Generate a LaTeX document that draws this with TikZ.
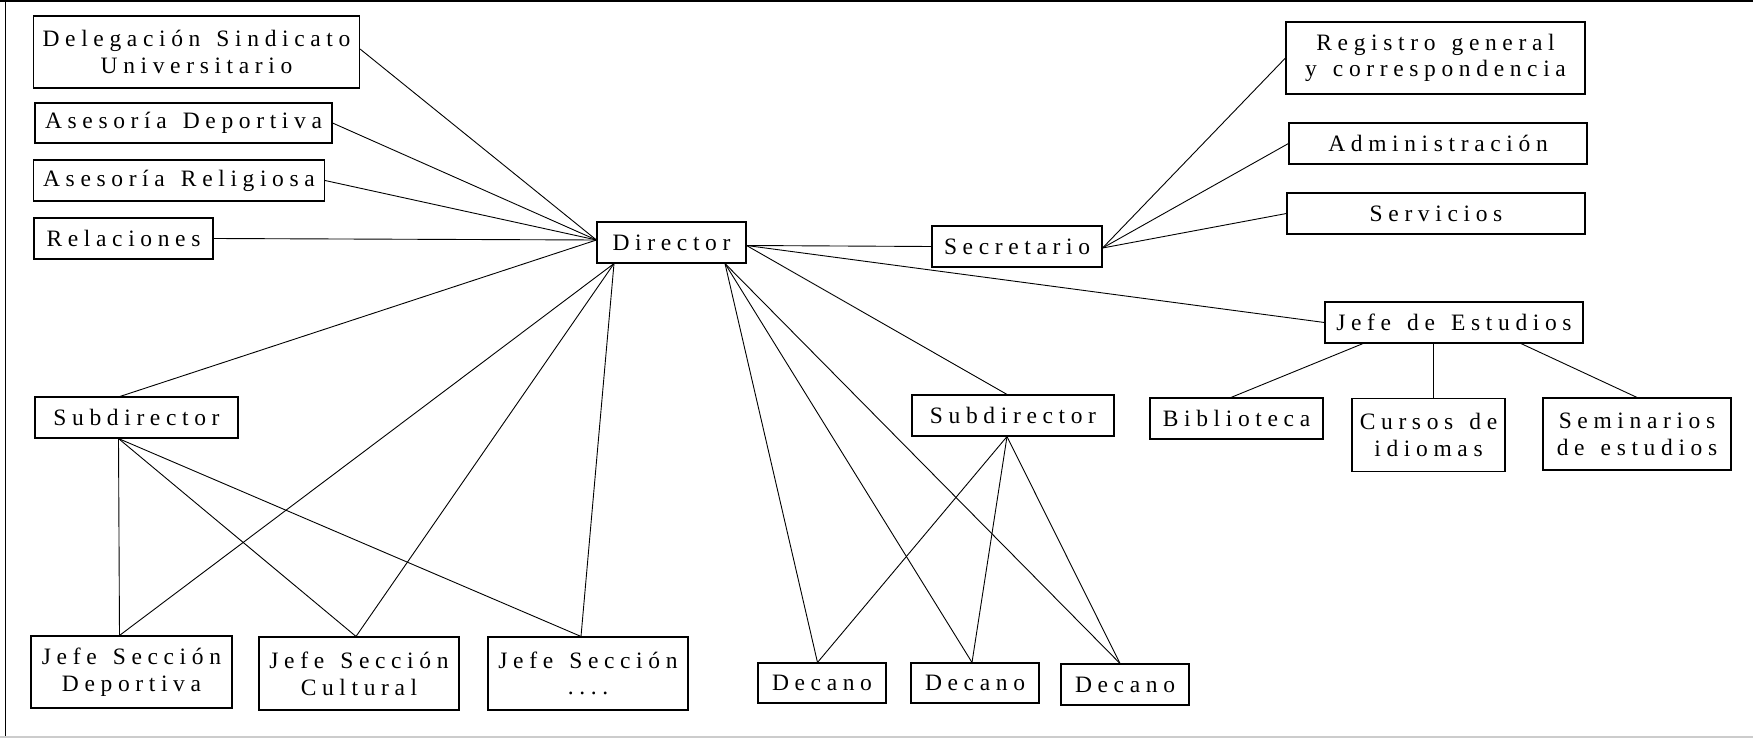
\documentclass[tikz,border=0pt]{standalone}
\usepackage{fontspec}
\newfontfamily\boxfont[LetterSpace=24,WordSpace=1.4]{Liberation Serif}
\begin{document}
\begin{tikzpicture}[x=1pt,y=-1pt,
  box/.style={draw, line width=1.1pt, inner sep=0pt, align=center,
    font={\boxfont\fontsize{23.5}{26.7}\selectfont}},
  link/.style={line width=0.9pt}]
\useasboundingbox (0,0) rectangle (1753,738);
% frame
\draw[line width=1.6pt] (0,0.8) -- (1753,0.8);
\draw[line width=1pt] (5,0) -- (5,737);
\draw[line width=1.5pt, black!20] (0,737) -- (1753,737);
% nodes
\node[box, minimum width=326pt, minimum height=72pt] (deleg) at (196.5,52) {Delegación Sindicato\\Universitario};
\node[box, minimum width=297pt, minimum height=40pt] (asdep) at (183.5,123) {Asesoría Deportiva};
\node[box, minimum width=291pt, minimum height=41pt] (asrel) at (179,180.5) {Asesoría Religiosa};
\node[box, minimum width=179pt, minimum height=41pt] (rel) at (123.5,238.5) {Relaciones};
\node[box, minimum width=149pt, minimum height=41pt] (dir) at (671.5,242.5) {Director};
\node[box, minimum width=170pt, minimum height=41pt] (sec) at (1017,246.5) {Secretario};
\node[box, minimum width=299pt, minimum height=72pt] (reg) at (1435.5,58) {Registro general\\y correspondencia};
\node[box, minimum width=298pt, minimum height=41pt] (adm) at (1438,143.5) {Administración};
\node[box, minimum width=298pt, minimum height=41pt] (serv) at (1436,213.5) {Servicios};
\node[box, minimum width=258pt, minimum height=41pt] (jefe) at (1454,322.5) {Jefe de Estudios};
\node[box, minimum width=173pt, minimum height=41pt] (bib) at (1236.5,418.5) {Biblioteca};
\node[box, minimum width=153pt, minimum height=73pt] (cur) at (1428.5,435) {Cursos de\\idiomas};
\node[box, minimum width=188pt, minimum height=72pt] (sem) at (1637,434) {Seminarios\\de estudios};
\node[box, minimum width=203pt, minimum height=41pt] (subA) at (136.5,417.5) {Subdirector};
\node[box, minimum width=202pt, minimum height=41pt] (subB) at (1013,415.5) {Subdirector};
\node[box, minimum width=201pt, minimum height=72pt] (jsA) at (131.5,672) {Jefe Sección\\Deportiva};
\node[box, minimum width=200pt, minimum height=73pt] (jsB) at (359,673.5) {Jefe Sección\\Cultural};
\node[box, minimum width=200pt, minimum height=73pt] (jsC) at (588,673.5) {Jefe Sección\\....};
\node[box, minimum width=128pt, minimum height=40pt] (decA) at (822,683) {Decano};
\node[box, minimum width=128pt, minimum height=40pt] (decB) at (975,683) {Decano};
\node[box, minimum width=128pt, minimum height=41pt] (decC) at (1125,684.5) {Decano};
% named attachment points
\coordinate (dirW) at ([yshift=2.5pt]dir.west);
\coordinate (dirBL) at ([xshift=-57.5pt]dir.south);
\coordinate (dirBR) at ([xshift=53.5pt]dir.south);
\coordinate (dirE) at ([yshift=-3pt]dir.east);
\coordinate (subAN) at ([xshift=-16.5pt]subA.north);
\coordinate (subAS) at ([xshift=-18pt]subA.south);
\coordinate (jsAN) at ([xshift=-12pt]jsA.north);
\coordinate (jsBN) at ([xshift=-3pt]jsB.north);
\coordinate (jsCN) at ([xshift=-7pt]jsC.north);
\coordinate (subBN) at ([xshift=-6pt]subB.north);
\coordinate (subBS) at ([xshift=-6pt]subB.south);
\coordinate (decAN) at ([xshift=-4.5pt]decA.north);
\coordinate (decBN) at ([xshift=-3pt]decB.north);
\coordinate (decCN) at ([xshift=-5pt]decC.north);
\coordinate (secE) at ([yshift=-1.5pt]sec.east);
\coordinate (jefeB1) at ([xshift=-91pt]jefe.south);
\coordinate (jefeB2) at ([xshift=-21pt]jefe.south);
\coordinate (jefeB3) at ([xshift=67pt]jefe.south);
\coordinate (bibN) at ([xshift=-5.5pt]bib.north);
\coordinate (curN) at ([xshift=4.5pt]cur.north);
% connectors
\draw[link] ([yshift=3pt]deleg.east) -- (dirW);
\draw[link] (asdep.east) -- (dirW);
\draw[link] (asrel.east) -- (dirW);
\draw[link] (rel.east) -- (dirW);
\draw[link] (dirW) -- (subAN);
\draw[link] (dirBL) -- (jsAN);
\draw[link] (dirBL) -- (jsBN);
\draw[link] (dirBL) -- (jsCN);
\draw[link] (subAS) -- (jsAN);
\draw[link] (subAS) -- (jsBN);
\draw[link] (subAS) -- (jsCN);
\draw[link] (dirBR) -- (decAN);
\draw[link] (dirBR) -- (decBN);
\draw[link] (dirBR) -- (decCN);
\draw[link] (subBS) -- (decAN);
\draw[link] (subBS) -- (decBN);
\draw[link] (subBS) -- (decCN);
\draw[link] (dirE) -- (subBN);
\draw[link] (dirE) -- (sec.west);
\draw[link] (dirE) -- (jefe.west);
\draw[link] (secE) -- (reg.west);
\draw[link] (secE) -- (adm.west);
\draw[link] (secE) -- (serv.west);
\draw[link] (jefeB1) -- (bibN);
\draw[link] (jefeB2) -- (curN);
\draw[link] (jefeB3) -- (sem.north);
\end{tikzpicture}
\end{document}
